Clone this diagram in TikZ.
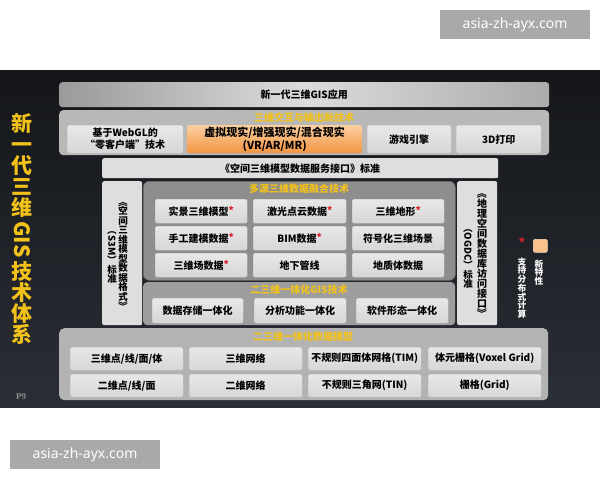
\documentclass[tikz,border=0pt]{standalone}
\usepackage{fontspec}
\usepackage{graphicx}
\setmainfont{Noto Sans CJK SC}
\newfontfamily\wmfont{Noto Sans}
\newfontfamily\pfont{Liberation Serif}
\usetikzlibrary{shapes.geometric}
\definecolor{bgtop}{HTML}{14161A}
\definecolor{bgbot}{HTML}{2A2E35}
\definecolor{cellA}{HTML}{E8E8E8}
\definecolor{cellB}{HTML}{D6D6D6}
\definecolor{cellE}{HTML}{BEBEBE}
\definecolor{gold}{HTML}{F2C21A}
\definecolor{barL}{HTML}{9A9A9A}
\definecolor{barM}{HTML}{DCDCDC}
\definecolor{barR}{HTML}{ABABAB}
\definecolor{secgray}{HTML}{B8B8B8}
\definecolor{lightp}{HTML}{DEDEDE}
\definecolor{fusgray}{HTML}{8E8E8E}
\definecolor{gisgray}{HTML}{9E9E9E}
\definecolor{basegray}{HTML}{B3B3B3}
\definecolor{orA}{HTML}{FBCFA0}
\definecolor{orB}{HTML}{F29442}
\definecolor{legsq}{HTML}{F9C18C}
\definecolor{starred}{HTML}{D8202C}
\definecolor{wmgray}{HTML}{A9A9A9}
\definecolor{pgray}{HTML}{8C8C8C}
\newcommand\vstack[1]{\vbox{\offinterlineskip\halign{\hfil##\hfil\cr#1\crcr}}}
\newcommand\rotx[1]{\rotatebox{-90}{#1}}
\newcommand\vs{\vrule height .88em depth .12em width 0pt}
\newcommand\st{\raisebox{1.5pt}{\textcolor{starred}{*}}}
\tikzset{
  cell/.style={anchor=north west, inner sep=0pt, rounded corners=1.5pt,
    top color=cellA, bottom color=cellB, draw=cellE, line width=0.4pt,
    font=\bfseries\fontsize{10}{12}\selectfont, align=center, text=black},
  panel/.style={anchor=north west, inner sep=0pt, rounded corners=4pt},
  hdr/.style={font=\bfseries\fontsize{10}{12}\selectfont, text=gold, inner sep=0pt},
  vtxt/.style={font=\bfseries\fontsize{9.5}{9.5}\selectfont, text=black, inner sep=0pt},
  wm/.style={fill=wmgray, text=white, font=\wmfont\fontsize{14}{14}\selectfont,
    minimum width=150pt, minimum height=29pt, inner sep=0pt}
}
\begin{document}
\begin{tikzpicture}[x=1pt,y=-1pt]
\useasboundingbox (0,0) rectangle (600,480);
\fill[white] (0,0) rectangle (600,480);
\shade[top color=bgtop,bottom color=bgbot] (0,70) rectangle (600,407);

% watermarks
\node[wm] (wm1) at (515,24.5) {asia-zh-ayx.com};
\node[wm] (wm2) at (85,454.5) {asia-zh-ayx.com};

% title
\node[text=gold, font=\bfseries\fontsize{21}{21}\selectfont, inner sep=0pt] (title) at (22,229)
  {\vstack{\vs 新\cr \vs 一\cr \vs 代\cr \vs 三\cr \vs 维\cr \noalign{\kern3pt}\rotx{GIS}\cr \noalign{\kern3pt}\vs 技\cr \vs 术\cr \vs 体\cr \vs 系}};
\node[text=pgray, font=\pfont\bfseries\fontsize{9}{9}\selectfont, inner sep=0pt] (p9) at (21,397) {P9};

% top application bar
\node[panel, rounded corners=3pt, left color=barL, right color=barR, middle color=barM,
  minimum width=490pt, minimum height=25pt, font=\bfseries\fontsize{10}{12}\selectfont] (app) at (59,82) {新一代三维GIS应用};

% section 1
\node[panel, fill=secgray, minimum width=490pt, minimum height=45pt] (sec1) at (59,110) {};
\node[hdr] (h1) at (304,117.5) {三维交互与输出新技术};
\node[cell, minimum width=116pt, minimum height=28pt] (web) at (67,125) {基于WebGL的\\“零客户端”技术};
\node[cell, top color=orA, bottom color=orB, draw=none, minimum width=175pt, minimum height=28pt,
  font=\bfseries\fontsize{11}{12.5}\selectfont] (vr) at (187,125) {虚拟现实/增强现实/混合现实\\(VR/AR/MR)};
\node[cell, minimum width=84pt, minimum height=28pt] (game) at (367,125) {游戏引擎};
\node[cell, minimum width=85pt, minimum height=28pt] (print) at (456,125) {3D打印};

% service interface standard
\node[panel, rounded corners=2pt, fill=lightp, minimum width=396pt, minimum height=20pt,
  font=\bfseries\fontsize{10}{12}\selectfont] (std) at (102,158) {《空间三维模型数据服务接口》标准};

% side standards
\node[panel, rounded corners=2pt, fill=lightp, minimum width=40pt, minimum height=144pt] (s3m) at (102,181) {};
\node[vtxt] (s3ma) at (123,254) {\vstack{\rotx{《}\cr \vs 空\cr \vs 间\cr \vs 三\cr \vs 维\cr \vs 模\cr \vs 型\cr \vs 数\cr \vs 据\cr \vs 格\cr \vs 式\cr \rotx{》}}};
\node[vtxt] (s3mb) at (112,255) {\vstack{\rotx{（S3M）}\cr \vs 标\cr \vs 准}};
\node[panel, rounded corners=2pt, fill=lightp, minimum width=40pt, minimum height=144pt] (ogdc) at (457,181) {};
\node[vtxt, font=\bfseries\fontsize{10}{10}\selectfont] (ogdca) at (482,253.5) {\vstack{\rotx{《}\cr \vs 地\cr \vs 理\cr \vs 空\cr \vs 间\cr \vs 数\cr \vs 据\cr \vs 库\cr \vs 访\cr \vs 问\cr \vs 接\cr \vs 口\cr \rotx{》}}};
\node[vtxt] (ogdcb) at (468,256) {\vstack{\rotx{（OGDC）}\cr \vs 标\cr \vs 准}};

% fusion panel
\node[panel, rounded corners=6pt, fill=fusgray, draw=black!60, line width=0.6pt, minimum width=312pt, minimum height=99pt] (fus) at (143,181) {};
\node[hdr] (h2) at (299,188.5) {多源三维数据融合技术};
\node[cell, minimum width=92pt, minimum height=24pt] (f11) at (155,199) {实景三维模型\st};
\node[cell, minimum width=93pt, minimum height=24pt] (f12) at (253,199) {激光点云数据\st};
\node[cell, minimum width=92pt, minimum height=24pt] (f13) at (352,199) {三维地形\st};
\node[cell, minimum width=92pt, minimum height=24pt] (f21) at (155,226) {手工建模数据\st};
\node[cell, minimum width=93pt, minimum height=24pt] (f22) at (253,226) {BIM数据\st};
\node[cell, minimum width=92pt, minimum height=24pt] (f23) at (352,226) {符号化三维场景};
\node[cell, minimum width=92pt, minimum height=24pt] (f31) at (155,253) {三维场数据\st};
\node[cell, minimum width=93pt, minimum height=24pt] (f32) at (253,253) {地下管线};
\node[cell, minimum width=92pt, minimum height=24pt] (f33) at (352,253) {地质体数据};

% GIS panel
\node[panel, rounded corners=4pt, fill=gisgray, minimum width=312pt, minimum height=43pt] (gis) at (143,282) {};
\node[hdr] (h3) at (299,289.5) {二三维一体化GIS技术};
\node[cell, minimum width=91pt, minimum height=25pt] (g1) at (152,298) {数据存储一体化};
\node[cell, minimum width=92pt, minimum height=25pt] (g2) at (254,298) {分析功能一体化};
\node[cell, minimum width=92pt, minimum height=25pt] (g3) at (356,298) {软件形态一体化};

% base panel
\node[panel, rounded corners=5pt, fill=basegray, minimum width=489pt, minimum height=72pt] (base) at (59,328) {};
\node[hdr] (h4) at (303,337) {二三维一体化数据模型};
\node[cell, minimum width=113pt, minimum height=23pt] (b11) at (70,347) {三维点/线/面/体};
\node[cell, minimum width=113pt, minimum height=23pt] (b12) at (189,347) {三维网络};
\node[cell, minimum width=113pt, minimum height=23pt] (b13) at (308,347) {不规则四面体网格(TIM)};
\node[cell, minimum width=113pt, minimum height=23pt] (b14) at (428,347) {体元栅格(Voxel Grid)};
\node[cell, minimum width=113pt, minimum height=23pt] (b21) at (70,374) {二维点/线/面};
\node[cell, minimum width=113pt, minimum height=23pt] (b22) at (189,374) {二维网络};
\node[cell, minimum width=113pt, minimum height=23pt] (b23) at (308,374) {不规则三角网(TIN)};
\node[cell, minimum width=113pt, minimum height=23pt] (b24) at (428,374) {栅格(Grid)};

% legend
\node[text=starred, font=\bfseries\fontsize{12}{12}\selectfont, inner sep=0pt] (legstar) at (522,243) {*};
\node[panel, rounded corners=1.5pt, fill=legsq, draw=legsq!60!white, line width=0.6pt, minimum width=14pt, minimum height=13pt] (legsq) at (533,239) {};
\node[text=white, font=\bfseries\fontsize{8.7}{8.7}\selectfont, inner sep=0pt] (leg1) at (522,288) {\vstack{\vs 支\cr \vs 持\cr \vs 分\cr \vs 布\cr \vs 式\cr \vs 计\cr \vs 算}};
\node[text=white, font=\bfseries\fontsize{8.7}{8.7}\selectfont, inner sep=0pt] (leg2) at (539,272.5) {\vstack{\vs 新\cr \vs 特\cr \vs 性}};
\end{tikzpicture}
\end{document}
